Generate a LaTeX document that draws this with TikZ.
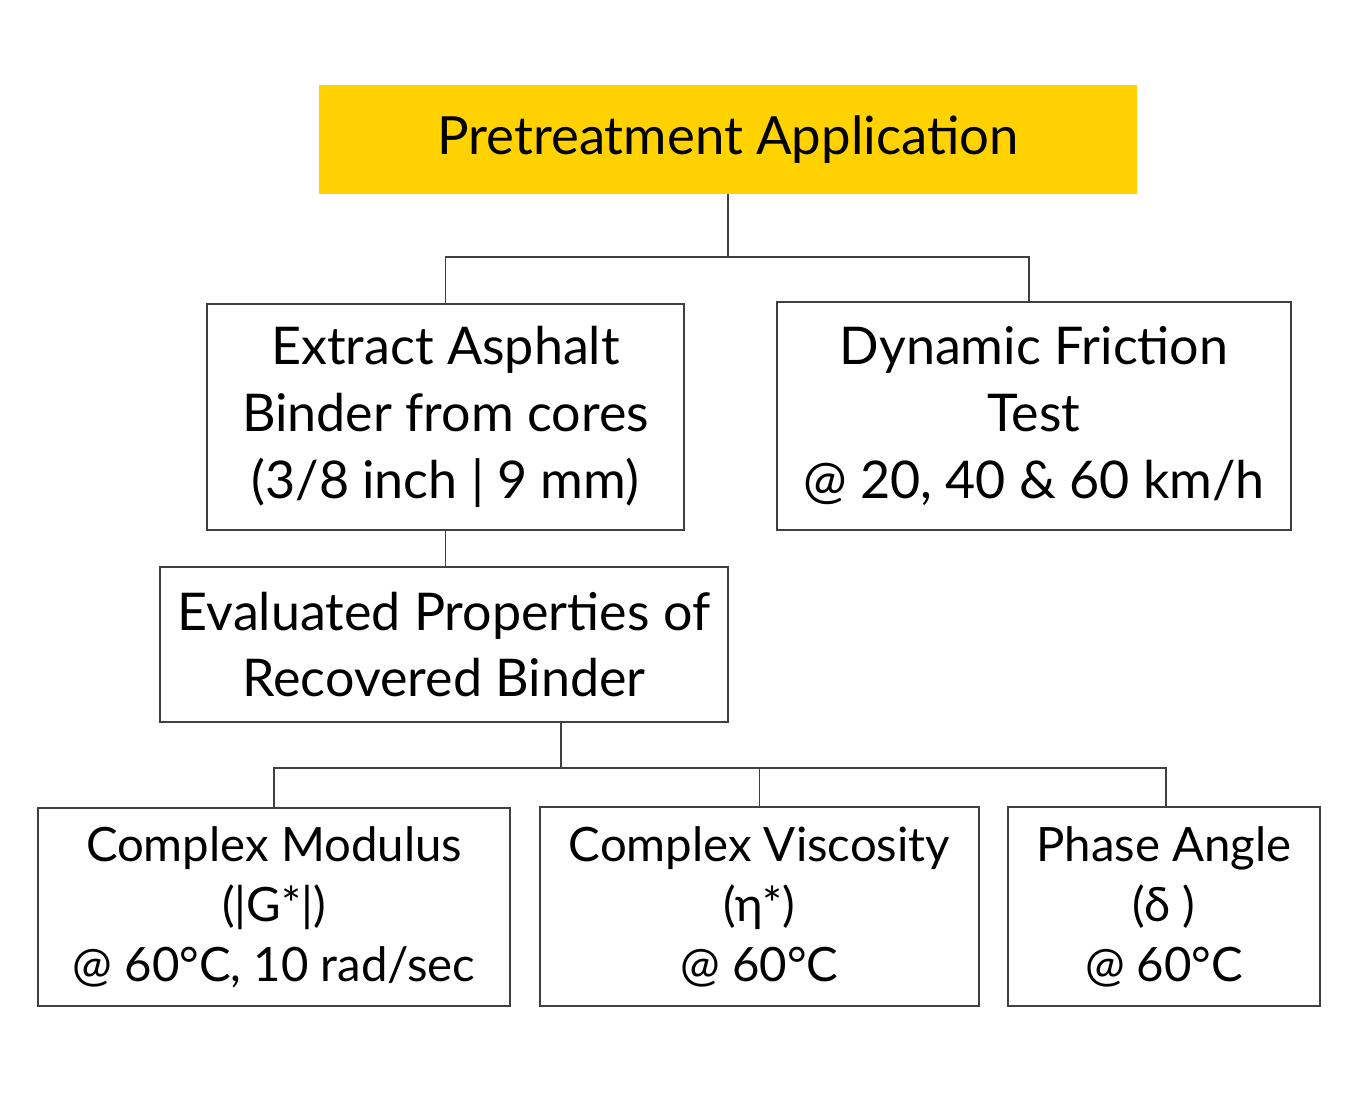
\documentclass[tikz,border=0pt]{standalone}
\usepackage{fontspec}
\setmainfont{Lato}
\usetikzlibrary{calc}
\definecolor{gold}{HTML}{FFD200}
\definecolor{linegray}{HTML}{404040}
\tikzset{
  box/.style={draw=linegray, line width=0.9pt, fill=white, align=center, inner sep=0pt, font=\fontsize{39}{50}\selectfont},
  smallbox/.style={box, font=\fontsize{35.5}{45}\selectfont},
  title/.style={fill=gold, align=center, inner sep=0pt, font=\fontsize{39.5}{48}\selectfont},
  conn/.style={draw=linegray, line width=0.9pt}
}
\begin{document}
\begin{tikzpicture}[x=0.75pt,y=-0.75pt]
\useasboundingbox (0,0) rectangle (1367,1093);
\node[title, minimum width=818*0.75pt, minimum height=109*0.75pt] (top) at (728,139.5) {Pretreatment Application};
\node[box, minimum width=477*0.75pt, minimum height=226*0.75pt] (extract) at (445.5,417) {Extract Asphalt\\Binder from cores\\(3/8 inch | 9 mm)};
\node[box, minimum width=514*0.75pt, minimum height=228*0.75pt] (dyn) at (1034,416) {Dynamic Friction\\Test\\@ 20, 40 \& 60 km/h};
\node[box, minimum width=568*0.75pt, minimum height=155*0.75pt] (eval) at (444,644.5) {Evaluated Properties of\\Recovered Binder};
\node[smallbox, minimum width=472*0.75pt, minimum height=198*0.75pt] (cm) at (274,907) {Complex Modulus\\(|G*|)\\@ 60°C, 10 rad/sec};
\node[smallbox, minimum width=439*0.75pt, minimum height=199*0.75pt] (cv) at (759.5,906.5) {Complex Viscosity\\(η*)\\@ 60°C};
\node[smallbox, minimum width=312*0.75pt, minimum height=199*0.75pt] (pa) at (1164,906.5) {Phase Angle\\(δ )\\@ 60°C};
\coordinate (j1) at (728,257);
\coordinate (j2) at (561,768);
\coordinate (dtop) at ($(dyn.north)+(-5,0)$);
\coordinate (ptop) at ($(pa.north)+(2,0)$);
\draw[conn] (top.south) -- (j1);
\draw[conn] (extract.north) -- (extract.north |- j1) -- (dtop |- j1) -- (dtop);
\draw[conn] (extract.south) -- (extract.south |- eval.north);
\draw[conn] (eval.south -| j2) -- (j2);
\draw[conn] (cm.north) -- (cm.north |- j2) -- (ptop |- j2) -- (ptop);
\draw[conn] (cv.north) -- (cv.north |- j2);
\end{tikzpicture}
\end{document}
